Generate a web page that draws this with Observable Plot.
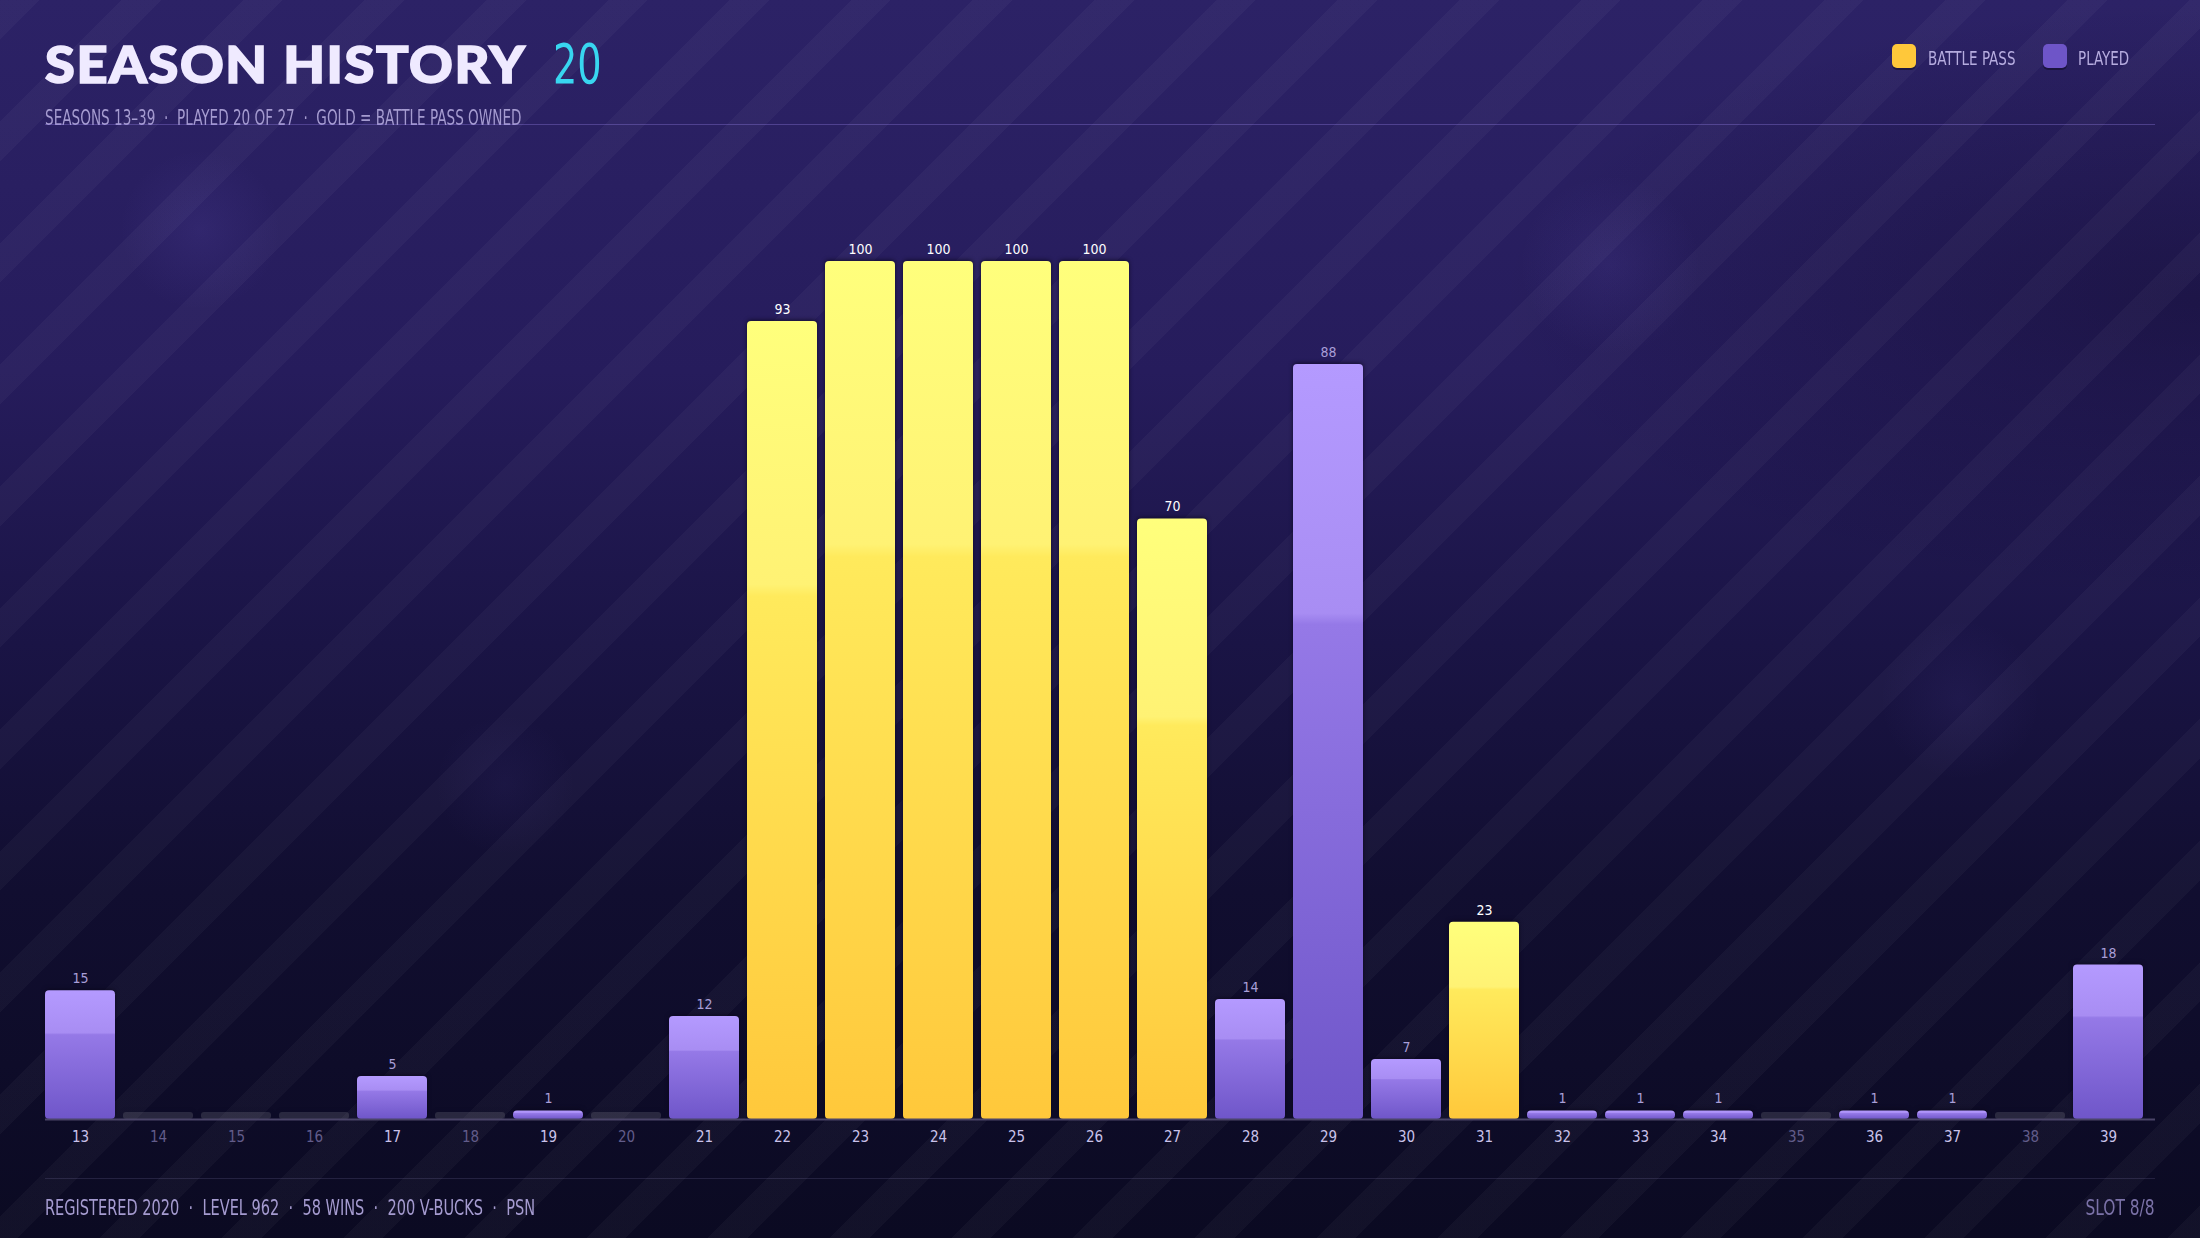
<!DOCTYPE html>
<html>
<head>
<meta charset="utf-8">
<script src="https://cdn.jsdelivr.net/npm/d3@7"></script>
<script src="https://cdn.jsdelivr.net/npm/@observablehq/plot@0.6"></script>
<style>
  html, body { margin: 0; padding: 0; background: #0b0920; }
  #wrap {
    position: relative; width: 2200px; height: 1238px; overflow: hidden;
    background:
      repeating-linear-gradient(135deg, rgba(255,255,255,0.032) 0px, rgba(255,255,255,0.032) 28px, rgba(255,255,255,0) 28px, rgba(255,255,255,0) 86px),
      radial-gradient(circle at 200px 230px, rgba(130,110,230,0.10), rgba(0,0,0,0) 80px),
      radial-gradient(circle at 1610px 265px, rgba(130,110,230,0.10), rgba(0,0,0,0) 90px),
      radial-gradient(circle at 1960px 700px, rgba(130,110,230,0.07), rgba(0,0,0,0) 80px),
      radial-gradient(circle at 505px 785px, rgba(130,110,230,0.06), rgba(0,0,0,0) 70px),
      radial-gradient(ellipse at 2200px 300px, rgba(10,6,30,0.35), rgba(0,0,0,0) 700px),
      linear-gradient(180deg, #2c2266 0%, #261c5c 30%, #1a1445 52%, #110e30 72%, #0b0a22 100%);
  }
  .cond { font-family: "Liberation Sans Narrow", "DejaVu Sans Condensed", "DejaVu Sans", sans-serif; font-stretch: condensed; }
  .abs { position: absolute; white-space: nowrap; transform-origin: left top; line-height: 1; }
  #title { left: 45px; top: 38px; font-family: "Lato", "Inter", "Roboto", sans-serif; font-weight: 900; font-size: 51px; color: #efeaff; letter-spacing: 1.5px; -webkit-text-stroke: 1.6px #efeaff; transform: scaleX(1.06); }
  #num { left: 553px; top: 36px; font-size: 56px; color: #38d6f0; transform: scaleX(0.76); }
  #sub { left: 45px; top: 108px; font-size: 21px; color: #a59bd0; transform: scaleX(0.72); }
  #hline { position: absolute; left: 45px; width: 2110px; top: 124px; height: 1px; background: rgba(150,130,230,0.35); }
  #fline { position: absolute; left: 45px; width: 2110px; top: 1178px; height: 1px; background: rgba(200,190,255,0.13); }
  #foot { left: 45px; top: 1197px; font-size: 22px; color: #a59bd0; transform: scaleX(0.735); }
  #slot { right: 45px; top: 1197px; font-size: 22px; color: #7b72a8; transform-origin: right top; transform: scaleX(0.78); }
  .sw { position: absolute; top: 44px; width: 24px; height: 24px; border-radius: 5px; box-shadow: 0 2px 0 rgba(0,0,0,0.35); }
  .lt { top: 49px; font-size: 19px; color: #b6acdf; transform: scaleX(0.79); }
  #chart { position: absolute; left: 0; top: 140px; }
</style>
</head>
<body>
<div id="wrap">
  <div id="title" class="abs">SEASON HISTORY</div>
  <div id="num" class="abs cond">20</div>
  <div id="sub" class="abs cond">SEASONS 13–39 &nbsp;·&nbsp; PLAYED 20 OF 27 &nbsp;·&nbsp; GOLD = BATTLE PASS OWNED</div>
  <div id="hline"></div>
  <div class="sw" style="left:1892px; background:#ffc83a;"></div>
  <div class="abs cond lt" style="left:1928px;">BATTLE PASS</div>
  <div class="sw" style="left:2043px; background:#6e55c8;"></div>
  <div class="abs cond lt" style="left:2078px;">PLAYED</div>
  <div id="chart"></div>
  <div id="fline"></div>
  <div id="foot" class="abs cond">REGISTERED 2020 &nbsp;·&nbsp; LEVEL 962 &nbsp;·&nbsp; 58 WINS &nbsp;·&nbsp; 200 V-BUCKS &nbsp;·&nbsp; PSN</div>
  <div id="slot" class="abs cond">SLOT 8/8</div>
</div>
<script>
// ---- data ----
const seasons = [13,14,15,16,17,18,19,20,21,22,23,24,25,26,27,28,29,30,31,32,33,34,35,36,37,38,39];
const progress = [15,0,0,0,5,0,1,0,12,93,100,100,100,100,70,14,88,7,23,1,1,1,0,1,1,0,18];
const battlePass = [0,0,0,0,0,0,0,0,0,1,1,1,1,1,1,0,0,0,1,0,0,0,0,0,0,0,0];

const data = seasons.map((s, i) => ({season: s, value: progress[i], bp: battlePass[i] === 1}));
const played = data.filter(d => d.value > 0);
const gold = played.filter(d => d.bp);
const purple = played.filter(d => !d.bp);
const unplayed = data.filter(d => d.value === 0);

const condFont = '"Liberation Sans Narrow", "DejaVu Sans Condensed", "DejaVu Sans", sans-serif';

const chart = Plot.plot({
  width: 2200,
  height: 1030,
  marginTop: 121,
  marginBottom: 51,
  marginLeft: 45,
  marginRight: 45,
  x: {type: "band", domain: seasons, paddingInner: 0.1, paddingOuter: 0, insetRight: 11, axis: null},
  y: {domain: [0, 100], axis: null},
  style: {background: "transparent", overflow: "visible", fontFamily: condFont},
  marks: [
    Plot.barY(unplayed, {x: "season", y: 0, insetTop: -7, rx: 3, fill: "rgba(255,255,255,0.12)"}),
    Plot.barY(gold, {x: "season", y: "value", rx: 4, fill: "url(#gradGold)"}),
    Plot.barY(purple, {x: "season", y: "value", rx: 4, fill: "url(#gradPurple)"}),
    Plot.ruleY([0], {stroke: "#4a4468", strokeWidth: 2}),
    Plot.text(gold, {x: "season", y: "value", text: d => String(d.value), dy: -12, fill: "#ffffff", fontSize: 14}),
    Plot.text(purple, {x: "season", y: "value", text: d => String(d.value), dy: -12, fill: "#a99fd8", fontSize: 14}),
    Plot.text(played, {x: "season", y: 0, text: d => String(d.season), dy: 18, fill: "#c9c2ea", fontSize: 15}),
    Plot.text(unplayed, {x: "season", y: 0, text: d => String(d.season), dy: 18, fill: "#625c8a", fontSize: 15})
  ]
});

d3.select(chart).insert("defs", ":first-child").html(`
  <linearGradient id="gradGold" x1="0" y1="0" x2="0" y2="1">
    <stop offset="0" stop-color="#ffff7c"/>
    <stop offset="0.33" stop-color="#fff274"/>
    <stop offset="0.345" stop-color="#ffea5c"/>
    <stop offset="1" stop-color="#ffc83b"/>
  </linearGradient>
  <linearGradient id="gradPurple" x1="0" y1="0" x2="0" y2="1">
    <stop offset="0" stop-color="#b49aff"/>
    <stop offset="0.33" stop-color="#a88df3"/>
    <stop offset="0.345" stop-color="#9579e7"/>
    <stop offset="1" stop-color="#6f56c9"/>
  </linearGradient>
`);
d3.select(chart).selectAll('g[aria-label="bar"]').style("filter", "drop-shadow(0 -1px 2px rgba(8,4,24,0.7))");
document.getElementById("chart").appendChild(chart);
</script>
</body>
</html>
